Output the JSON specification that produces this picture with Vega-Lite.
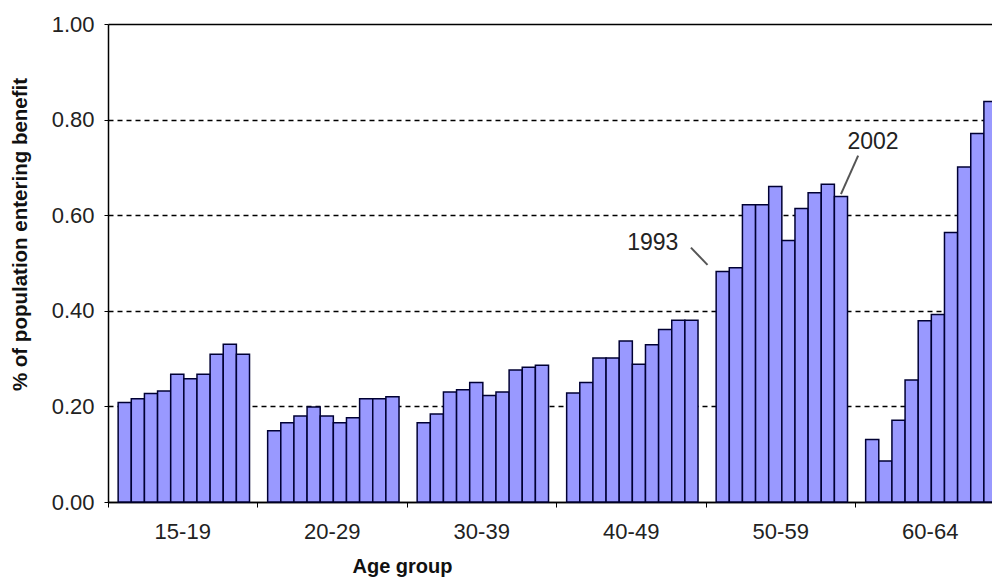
{
  "$schema": "https://vega.github.io/schema/vega-lite/v6.json",
  "width": 884,
  "height": 478,
  "autosize": "none",
  "padding": {"left": 108, "top": 24, "right": 0, "bottom": 84},
  "background": "white",
  "config": {
    "view": {"stroke": null},
    "font": "Liberation Sans"
  },
  "data": {
    "values": [
      {"group": "15-19", "year": 1993, "value": 0.208},
      {"group": "15-19", "year": 1994, "value": 0.216},
      {"group": "15-19", "year": 1995, "value": 0.227},
      {"group": "15-19", "year": 1996, "value": 0.232},
      {"group": "15-19", "year": 1997, "value": 0.267},
      {"group": "15-19", "year": 1998, "value": 0.258},
      {"group": "15-19", "year": 1999, "value": 0.267},
      {"group": "15-19", "year": 2000, "value": 0.309},
      {"group": "15-19", "year": 2001, "value": 0.330},
      {"group": "15-19", "year": 2002, "value": 0.309},
      {"group": "20-29", "year": 1993, "value": 0.149},
      {"group": "20-29", "year": 1994, "value": 0.166},
      {"group": "20-29", "year": 1995, "value": 0.180},
      {"group": "20-29", "year": 1996, "value": 0.199},
      {"group": "20-29", "year": 1997, "value": 0.180},
      {"group": "20-29", "year": 1998, "value": 0.166},
      {"group": "20-29", "year": 1999, "value": 0.176},
      {"group": "20-29", "year": 2000, "value": 0.216},
      {"group": "20-29", "year": 2001, "value": 0.216},
      {"group": "20-29", "year": 2002, "value": 0.220},
      {"group": "30-39", "year": 1993, "value": 0.166},
      {"group": "30-39", "year": 1994, "value": 0.184},
      {"group": "30-39", "year": 1995, "value": 0.230},
      {"group": "30-39", "year": 1996, "value": 0.235},
      {"group": "30-39", "year": 1997, "value": 0.250},
      {"group": "30-39", "year": 1998, "value": 0.223},
      {"group": "30-39", "year": 1999, "value": 0.230},
      {"group": "30-39", "year": 2000, "value": 0.276},
      {"group": "30-39", "year": 2001, "value": 0.282},
      {"group": "30-39", "year": 2002, "value": 0.286},
      {"group": "40-49", "year": 1993, "value": 0.228},
      {"group": "40-49", "year": 1994, "value": 0.250},
      {"group": "40-49", "year": 1995, "value": 0.301},
      {"group": "40-49", "year": 1996, "value": 0.301},
      {"group": "40-49", "year": 1997, "value": 0.337},
      {"group": "40-49", "year": 1998, "value": 0.288},
      {"group": "40-49", "year": 1999, "value": 0.329},
      {"group": "40-49", "year": 2000, "value": 0.361},
      {"group": "40-49", "year": 2001, "value": 0.380},
      {"group": "40-49", "year": 2002, "value": 0.380},
      {"group": "50-59", "year": 1993, "value": 0.482},
      {"group": "50-59", "year": 1994, "value": 0.490},
      {"group": "50-59", "year": 1995, "value": 0.622},
      {"group": "50-59", "year": 1996, "value": 0.622},
      {"group": "50-59", "year": 1997, "value": 0.660},
      {"group": "50-59", "year": 1998, "value": 0.547},
      {"group": "50-59", "year": 1999, "value": 0.614},
      {"group": "50-59", "year": 2000, "value": 0.647},
      {"group": "50-59", "year": 2001, "value": 0.665},
      {"group": "50-59", "year": 2002, "value": 0.639},
      {"group": "60-64", "year": 1993, "value": 0.131},
      {"group": "60-64", "year": 1994, "value": 0.086},
      {"group": "60-64", "year": 1995, "value": 0.171},
      {"group": "60-64", "year": 1996, "value": 0.255},
      {"group": "60-64", "year": 1997, "value": 0.379},
      {"group": "60-64", "year": 1998, "value": 0.392},
      {"group": "60-64", "year": 1999, "value": 0.564},
      {"group": "60-64", "year": 2000, "value": 0.701},
      {"group": "60-64", "year": 2001, "value": 0.771},
      {"group": "60-64", "year": 2002, "value": 0.838}
    ]
  },
  "encoding": {
    "x": {
      "field": "group",
      "type": "nominal",
      "scale": {"paddingInner": 0, "paddingOuter": 0, "range": [0, 897]},
      "axis": {
        "title": "Age group",
        "titleFont": "Liberation Sans",
        "titleFontSize": 20,
        "titleFontWeight": "bold",
        "titleColor": "#111",
        "titleX": 294,
        "titlePadding": 14,
        "bandPosition": 0,
        "labelDx": 74.75,
        "labelAngle": 0,
        "labelFontSize": 22,
        "labelColor": "#222",
        "labelPadding": 14,
        "tickSize": 5,
        "tickColor": "#000",
        "domainColor": "#000",
        "domainWidth": 1.5,
        "grid": false
      }
    },
    "xOffset": {
      "field": "year",
      "type": "ordinal",
      "scale": {"paddingInner": 0, "paddingOuter": 0.69, "align": 0.56}
    },
    "y": {
      "field": "value",
      "type": "quantitative",
      "scale": {"domain": [0, 1], "nice": false},
      "axis": {
        "title": "% of population entering benefit",
        "titleFont": "Liberation Sans",
        "titleFontSize": 20.5,
        "titleFontWeight": "bold",
        "titleColor": "#111",
        "titleX": -82,
        "titleY": 210,
        "titleBaseline": "alphabetic",
        "values": [0, 0.2, 0.4, 0.6, 0.8, 1],
        "format": ".2f",
        "labelFontSize": 22,
        "labelColor": "#222",
        "labelPadding": 10,
        "tickSize": 4,
        "tickColor": "#000",
        "domainColor": "#000",
        "domainWidth": 1.5,
        "grid": true,
        "gridColor": "#000",
        "gridWidth": {"condition": {"test": "datum.value === 1", "value": 1.5}, "value": 1.3},
        "gridDash": {"condition": {"test": "datum.value === 1 || datum.value === 0", "value": []}, "value": [5, 4]},
        "gridOpacity": 1
      }
    }
  },
  "layer": [
    {
      "mark": {"type": "bar", "fill": "#9999FF", "stroke": "#000033", "strokeWidth": 1.5}
    },
    {
      "transform": [{"filter": "datum.group === '50-59' && datum.year === 1993"}],
      "mark": {"type": "point", "shape": "M -3.18 -2.4 L -1.52 -0.67", "size": 400, "filled": false, "color": "#555", "strokeWidth": 2, "opacity": 1}
    },
    {
      "transform": [{"filter": "datum.group === '50-59' && datum.year === 2002"}],
      "mark": {"type": "point", "shape": "M 1.72 -4.1 L 0.0 -0.25", "size": 400, "filled": false, "color": "#555", "strokeWidth": 2, "opacity": 1}
    },
    {
      "transform": [{"filter": "datum.group === '50-59' && datum.year === 1993"}],
      "mark": {"type": "text", "dx": -70, "dy": -29, "fontSize": 23, "font": "Liberation Sans", "color": "#222", "align": "center", "baseline": "middle"},
      "encoding": {"text": {"field": "year", "type": "nominal"}}
    },
    {
      "transform": [{"filter": "datum.group === '50-59' && datum.year === 2002"}],
      "mark": {"type": "text", "dx": 32, "dy": -54.5, "fontSize": 23, "font": "Liberation Sans", "color": "#222", "align": "center", "baseline": "middle"},
      "encoding": {"text": {"field": "year", "type": "nominal"}}
    }
  ]
}
